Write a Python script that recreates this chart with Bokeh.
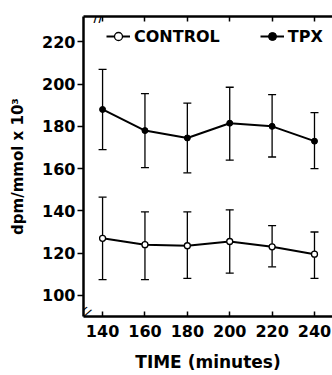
from bokeh.plotting import figure
from bokeh.models import (ColumnDataSource, Whisker, TeeHead, Range1d, LinearAxis,
                          Legend, LegendItem, Label, FixedTicker)
from bokeh.embed import file_html
from bokeh.resources import INLINE

time_min = [140, 160, 180, 200, 220, 240]
control_mean = [127, 124, 123.5, 125.5, 123, 119.5]
control_upper = [146.5, 139.5, 139.5, 140.5, 133, 130]
control_lower = [107.5, 107.5, 108, 110.5, 113.5, 108]
tpx_mean = [188, 178, 174.5, 181.5, 180, 173]
tpx_upper = [207, 195.5, 191, 198.5, 195, 186.5]
tpx_lower = [169, 160.5, 158, 164, 165.5, 160]
x_ticks = [140, 160, 180, 200, 220, 240]
y_ticks = [100, 120, 140, 160, 180, 200, 220]

FONT = "DejaVu Sans"

ctrl = ColumnDataSource(dict(x=time_min, y=control_mean, up=control_upper, lo=control_lower))
tpx = ColumnDataSource(dict(x=time_min, y=tpx_mean, up=tpx_upper, lo=tpx_lower))

p = figure(width=332, height=375, output_backend="svg", toolbar_location=None,
           x_range=Range1d(131, 248.5), y_range=Range1d(90, 232),
           min_border_left=83, min_border_top=16, min_border_bottom=59, min_border_right=0)
p.outline_line_color = None
p.xgrid.visible = False
p.ygrid.visible = False

for ax in (p.xaxis[0], p.yaxis[0]):
    ax.axis_line_width = 2.5
    ax.major_tick_line_width = 1.5
    ax.minor_tick_line_color = None
    ax.major_label_text_font = FONT
    ax.major_label_text_font_style = "bold"
    ax.major_label_text_font_size = "16px"
    ax.major_label_text_color = "black"
    ax.axis_label_text_font = FONT
    ax.axis_label_text_font_style = "bold"
    ax.axis_label_text_color = "black"

p.xaxis.ticker = FixedTicker(ticks=x_ticks)
p.yaxis.ticker = FixedTicker(ticks=y_ticks)
p.xaxis.major_tick_in = 5
p.xaxis.major_tick_out = 0
p.xaxis.major_label_standoff = 8
p.xaxis.axis_label = "TIME (minutes)"
p.xaxis.axis_label_text_font_size = "17px"
p.xaxis.axis_label_standoff = 12
p.yaxis.major_tick_in = 0
p.yaxis.major_tick_out = 6
p.yaxis.major_label_standoff = 2
p.yaxis.axis_label = "dpm/mmol x 10³"
p.yaxis.axis_label_text_font_size = "15px"
p.yaxis.axis_label_standoff = 12

top = LinearAxis(ticker=FixedTicker(ticks=x_ticks), axis_line_width=2.5,
                 major_tick_in=5, major_tick_out=0, major_tick_line_width=1.5,
                 minor_tick_line_color=None,
                 major_label_overrides={t: "" for t in x_ticks},
                 major_label_standoff=0)
p.add_layout(top, "above")

head = dict(size=8, line_width=1.3, line_color="black")
for src in (ctrl, tpx):
    p.add_layout(Whisker(source=src, base="x", upper="up", lower="lo",
                         line_width=1.3, line_color="black",
                         upper_head=TeeHead(**head), lower_head=TeeHead(**head)))

cl = p.line("x", "y", source=ctrl, line_width=2, line_color="black")
tl = p.line("x", "y", source=tpx, line_width=2, line_color="black")
cp = p.scatter("x", "y", source=ctrl, size=6, marker="circle", fill_color="white",
               line_color="black", line_width=1.3)
tp = p.scatter("x", "y", source=tpx, size=6, marker="circle", fill_color="black",
               line_color="black")

legend = Legend(items=[LegendItem(label="CONTROL", renderers=[cl, cp]),
                       LegendItem(label="TPX", renderers=[tl, tp])],
                orientation="horizontal", location=(23, 270),
                border_line_color=None, background_fill_alpha=0,
                padding=0, margin=0, glyph_width=24, glyph_height=20,
                label_standoff=4, spacing=40,
                label_text_font=FONT, label_text_font_style="bold",
                label_text_font_size="16px", label_text_color="black")
p.add_layout(legend)

# axis break marks
p.add_layout(Label(x=15, y=300, x_units="screen", y_units="screen", text="//",
                   text_font=FONT, text_font_size="15px", text_align="center",
                   text_baseline="middle", text_color="black"))
p.add_layout(Label(x=1, y=4, x_units="screen", y_units="screen", text="//",
                   angle=-0.55, text_font=FONT, text_font_size="15px",
                   text_align="center", text_baseline="middle", text_color="black"))

open("out.html", "w").write(file_html(p, INLINE))
